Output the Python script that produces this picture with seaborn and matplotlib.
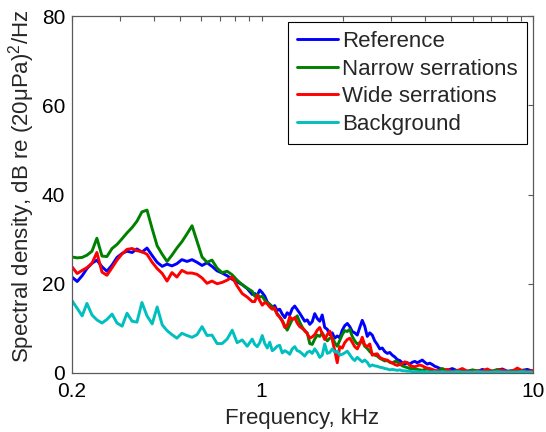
import numpy as np
import pandas as pd
import matplotlib
matplotlib.use("Agg")
import matplotlib.pyplot as plt
import seaborn as sns
from matplotlib.ticker import FixedLocator, FixedFormatter, NullFormatter

# ---------------- data ----------------
freq_khz = [
    # 0.2 - 0.92 kHz
    0.200, 0.209, 0.218, 0.227, 0.237, 0.247, 0.258, 0.269, 0.281, 0.293,
    0.306, 0.319, 0.333, 0.347, 0.362, 0.378, 0.395, 0.412, 0.430, 0.448,
    0.467, 0.487, 0.508, 0.531, 0.554, 0.578, 0.603, 0.629, 0.656, 0.685,
    0.715, 0.746, 0.779, 0.812, 0.848, 0.885, 0.923,
    # 0.94 - 4.5 kHz
    0.943, 0.963, 0.984, 1.005, 1.027, 1.049, 1.071, 1.094, 1.117, 1.141,
    1.165, 1.191, 1.217, 1.242, 1.269, 1.296, 1.324, 1.352, 1.381, 1.411,
    1.441, 1.472, 1.504, 1.536, 1.569, 1.603, 1.637, 1.672, 1.708, 1.745,
    1.782, 1.820, 1.859, 1.899, 1.940, 1.982, 2.024, 2.068, 2.112, 2.157,
    2.203, 2.251, 2.299, 2.348, 2.398, 2.450, 2.503, 2.556, 2.611, 2.667,
    2.724, 2.783, 2.843, 2.904, 2.966, 3.030, 3.095, 3.161, 3.229, 3.298,
    3.369, 3.441, 3.515, 3.590, 3.667, 3.746, 3.826, 3.908, 3.992, 4.077,
    4.164, 4.254, 4.345, 4.439, 4.534,
    # 4.6 - 10 kHz
    4.631, 4.832, 5.041, 5.260, 5.488, 5.726, 5.974, 6.233, 6.503, 6.785,
    7.079, 7.386, 7.706, 8.040, 8.389, 8.753, 9.132, 9.528, 10.0,
]

reference = [
    21.5, 20.5, 21.8, 23.4, 24.6, 25.3, 23.8, 22.8, 24.2, 25.9,
    26.8, 27.3, 27.0, 27.8, 27.1, 28.0, 26.3, 24.8, 23.9, 24.4,
    24.0, 24.5, 25.4, 25.0, 25.4, 24.8, 24.1, 24.7, 23.9, 22.9,
    22.4, 21.8, 21.0, 20.4, 19.8, 18.9, 17.6,
    17.8, 17.4, 18.6, 18.0, 17.2, 15.9, 15.3, 14.6, 15.1, 14.0,
    14.3, 13.2, 12.4, 13.5, 13.0, 14.4, 15.0, 14.2, 13.4, 12.5,
    11.6, 11.9, 10.9, 11.5, 13.3, 12.2, 11.6, 13.0, 10.2, 9.8,
    8.6, 9.0, 7.8, 8.3, 7.9, 9.6, 10.6, 11.1, 10.4, 9.3,
    9.0, 8.5, 10.2, 11.8, 10.5, 8.2, 9.0, 8.5, 7.2, 6.4,
    5.4, 5.6, 4.8, 4.4, 4.6, 4.0, 3.6, 3.0, 2.8, 2.3,
    2.0, 2.3, 2.0, 2.4, 2.6, 2.3, 2.6, 2.9, 2.4, 2.0,
    2.2, 1.9, 1.5, 1.3, 1.0,
    0.8, 0.6, 1.0, 0.5, 0.7, 0.4, 0.6, 0.3, 0.8, 0.5,
    0.4, 0.6, 0.9, 0.4, 0.5, 0.3, 0.6, 0.8, 0.4,
]

narrow = [
    26.0, 25.8, 25.9, 26.4, 27.3, 30.2, 26.2, 26.1, 27.9, 28.8,
    30.1, 31.4, 32.6, 34.0, 36.1, 36.5, 32.3, 28.5, 26.6, 25.0,
    26.4, 28.0, 29.4, 31.2, 33.0, 29.5, 26.0, 24.8, 25.3, 23.5,
    22.5, 22.8, 22.0, 20.8, 19.8, 19.0, 18.3,
    17.2, 17.6, 17.0, 17.2, 16.3, 15.8, 15.4, 14.9, 14.2, 13.3,
    12.6, 11.8, 10.6, 9.6, 10.8, 12.0, 12.2, 12.8, 11.4, 10.3,
    9.4, 9.0, 6.6, 6.4, 7.6, 8.5, 8.2, 9.0, 8.0, 7.2,
    7.8, 8.0, 6.8, 6.0, 7.3, 8.6, 9.5, 9.3, 9.8, 8.2,
    7.2, 6.5, 6.8, 7.2, 6.0, 5.5, 4.8, 4.3, 4.0, 3.8,
    3.3, 3.0, 2.7, 2.8, 2.4, 2.2, 2.6, 2.5, 2.0, 1.6,
    1.4, 1.2, 1.0, 1.0, 0.9, 0.8, 0.7, 0.6, 0.8, 0.9,
    0.6, 0.5, 0.4, 0.4, 0.7,
    1.0, 0.5, 0.3, 0.6, 0.4, 0.3, 0.7, 0.5, 0.3, 0.6,
    0.4, 0.8, 0.5, 0.3, 0.5, 0.4, 0.6, 0.4, 0.3,
]

wide = [
    23.8, 22.3, 23.0, 23.6, 24.6, 27.0, 22.6, 21.9, 23.6, 25.3,
    26.7, 27.7, 27.9, 27.4, 27.2, 26.6, 24.8, 23.4, 22.3, 20.6,
    22.5, 21.5, 23.0, 22.4, 22.4, 22.1, 21.3, 20.1, 20.6, 20.0,
    20.3, 20.8, 21.5, 19.5, 17.8, 17.0, 16.0,
    16.0, 17.4, 16.2, 15.2, 15.8, 15.5, 14.8, 14.3, 14.6, 13.1,
    12.5, 11.6, 10.2, 10.6, 12.6, 12.0, 12.4, 11.2, 10.4, 10.0,
    9.6, 8.8, 7.8, 8.1, 8.6, 9.6, 10.2, 8.8, 7.5, 8.6,
    9.4, 7.5, 5.0, 2.3, 5.9, 5.6, 6.8, 7.5, 7.8, 6.9,
    5.9, 5.4, 6.5, 8.0, 6.3, 5.9, 6.5, 4.0, 4.2, 4.3,
    3.5, 3.2, 3.0, 2.9, 2.5, 2.3, 1.9, 1.7, 1.9, 2.1,
    2.5, 2.3, 1.7, 1.5, 1.4, 1.6, 1.8, 1.6, 1.3, 1.1,
    1.0, 0.8, 0.6, 0.5, 0.4,
    0.3, 0.8, 0.3, 0.5, 1.0, 0.4, 0.3, 0.5, 0.4, 0.9,
    0.3, 0.5, 0.7, 0.3, 0.4, 1.1, 0.5, 0.3, 0.6,
]

background = [
    16.2, 14.5, 12.8, 15.6, 13.0, 11.9, 11.2, 12.0, 13.2, 11.2,
    10.5, 13.4, 11.6, 11.4, 15.8, 12.8, 11.0, 14.8, 10.8, 9.5,
    8.6, 7.8, 8.9, 8.4, 8.0, 8.6, 10.4, 8.4, 8.5, 6.6,
    6.6, 7.6, 9.6, 6.8, 7.4, 6.0, 7.6,
    6.4, 5.9, 6.8, 8.4, 6.6, 5.6, 6.9, 5.0, 5.4, 6.0,
    6.2, 4.5, 5.0, 4.7, 4.2, 5.4, 5.9, 5.0, 4.8, 4.3,
    3.8, 4.6, 4.9, 4.4, 5.4, 4.6, 3.5, 4.0, 6.5, 4.4,
    4.6, 5.4, 4.7, 4.9, 4.0, 4.2, 4.5, 4.9, 4.1, 3.3,
    2.8, 3.5, 3.0, 2.5, 2.9, 2.4, 1.5, 1.8, 1.6, 1.5,
    1.3, 1.2, 1.0, 0.9, 0.7, 0.8, 0.7, 0.6, 0.7, 0.5,
    0.5, 0.4, 0.4, 0.3, 0.3, 0.3, 0.2, 0.3, 0.2, 0.3,
    0.2, 0.2, 0.3, 0.2, 0.2,
    0.3, 0.2, 0.2, 0.3, 0.2, 0.2, 0.2, 0.3, 0.2, 0.2,
    0.2, 0.3, 0.2, 0.2, 0.2, 0.2, 0.3, 0.2, 0.2,
]

series_names = ["Reference", "Narrow serrations", "Wide serrations", "Background"]
series_colors = ["#0000ff", "#008000", "#ff0000", "#00bfbf"]

x_major = [0.2, 1, 10]
x_major_labels = ["0.2", "1", "10"]
x_minor = [0.3, 0.4, 0.5, 0.6, 0.7, 0.8, 0.9, 2, 3, 4, 5, 6, 7, 8, 9]
y_ticks = [0, 20, 40, 60, 80]

# ---------------- frame ----------------
frames = []
for name, vals in zip(series_names, [reference, narrow, wide, background]):
    frames.append(pd.DataFrame({"freq": freq_khz, "psd": vals, "series": name}))
df = pd.concat(frames, ignore_index=True)

# ---------------- style ----------------
sns.set_style("white")
plt.rcParams["font.family"] = ["Liberation Sans", "DejaVu Sans"]
plt.rcParams["mathtext.fontset"] = "custom"
plt.rcParams["mathtext.rm"] = "Liberation Sans"
plt.rcParams["mathtext.it"] = "Liberation Sans:italic"
plt.rcParams["mathtext.bf"] = "Liberation Sans:bold"

FS = 16
TFS = 15

fig = plt.figure(figsize=(5.46, 4.32), dpi=100)
ax = fig.add_axes([72 / 546, 1 - 373 / 432, 461 / 546, 357 / 432])

sns.lineplot(
    data=df, x="freq", y="psd", hue="series", hue_order=series_names,
    palette=series_colors, estimator=None, sort=False, linewidth=2.1,
    legend=False, ax=ax,
)

ax.set_xscale("log")
ax.set_xlim(0.2, 10)
ax.set_ylim(0, 80)

ax.xaxis.set_major_locator(FixedLocator(x_major))
ax.xaxis.set_major_formatter(FixedFormatter(x_major_labels))
ax.xaxis.set_minor_locator(FixedLocator(x_minor))
ax.xaxis.set_minor_formatter(NullFormatter())
ax.set_yticks(y_ticks)
ax.set_yticklabels([str(v) for v in y_ticks])

spine_color = "#5a5a5a"
for s in ax.spines.values():
    s.set_visible(True)
    s.set_color(spine_color)
    s.set_linewidth(0.9)

ax.tick_params(which="both", direction="in", top=True, right=True,
               length=3.5, width=0.8, color=spine_color, labelsize=TFS,
               labelcolor="black")
ax.tick_params(axis="x", which="major", pad=6.8)
ax.tick_params(axis="y", which="major", pad=5)

ax.set_xlabel("Frequency, kHz", fontsize=FS)
ax.set_ylabel("Spectral density, dB re (20μPa)$^2$/Hz", fontsize=FS)
ax.xaxis.set_label_coords(0.5, -0.097)
ax.yaxis.set_label_coords(-0.077, 0.524)

leg = ax.legend(
    ax.lines[:4], series_names, loc="upper right", fontsize=FS,
    frameon=True, fancybox=False, framealpha=1, edgecolor="black",
    handlelength=1.85, handletextpad=0.2, borderaxespad=0.27,
    labelspacing=0.30, borderpad=0.4,
)
leg.get_frame().set_linewidth(0.8)

fig.savefig("out.png", dpi=100, facecolor="white")
